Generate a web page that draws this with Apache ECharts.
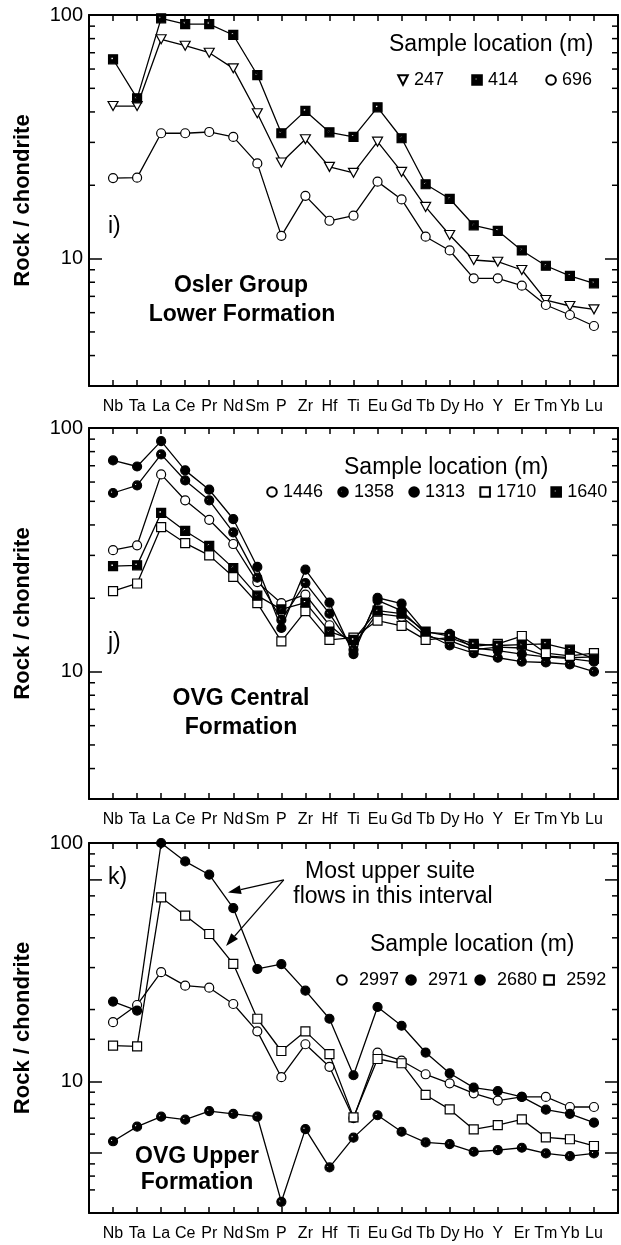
<!DOCTYPE html>
<html>
<head>
<meta charset="utf-8">
<script src="https://cdn.jsdelivr.net/npm/echarts@6/dist/echarts.min.js"></script>
<style>
  html, body { margin: 0; padding: 0; background: #fff; }
  #chart { width: 621px; height: 1245px; }
</style>
</head>
<body>
<div id="chart"></div>
<script>
// Element order along the x axis (spider diagram)
const elements = ['Nb','Ta','La','Ce','Pr','Nd','Sm','P','Zr','Hf','Ti','Eu','Gd','Tb','Dy','Ho','Y','Er','Tm','Yb','Lu'];

// i) Osler Group, Lower Formation — sample location (m)
const s247 = [42.3, 42.3, 79.5, 74.8, 70.0, 60.4, 39.5, 24.8, 30.9, 23.8, 22.5, 30.2, 22.7, 16.3, 12.5, 9.87, 9.71, 8.98, 6.76, 6.39, 6.19];
const s414 = [65.8, 45.5, 96.9, 91.8, 91.8, 82.8, 56.7, 32.7, 40.4, 33.0, 31.6, 41.8, 31.2, 20.2, 17.6, 13.7, 13.0, 10.8, 9.35, 8.49, 7.92];
const s696 = [21.4, 21.5, 32.7, 32.7, 33.1, 31.6, 24.6, 12.4, 18.1, 14.3, 15.0, 20.7, 17.5, 12.3, 10.8, 8.3, 8.3, 7.74, 6.45, 5.87, 5.29];

// j) OVG Central Formation
const s1446 = [31.5, 33.0, 64.5, 50.5, 42.0, 33.4, 23.3, 19.1, 20.7, 15.5, 12.9, 17.3, 16.8, 14.0, 13.4, 12.3, 12.6, 12.5, 11.6, 11.4, 11.5];
const s1358 = [54.1, 58.1, 77.9, 60.9, 50.5, 37.3, 24.3, 16.3, 23.1, 17.3, 12.3, 19.6, 17.8, 14.3, 12.8, 11.9, 11.4, 11.0, 10.9, 10.7, 10.0];
const s1313 = [73.6, 69.5, 88.3, 67.0, 55.8, 42.3, 26.9, 15.1, 26.2, 19.2, 11.8, 20.1, 19.0, 14.5, 14.3, 12.5, 12.2, 11.8, 11.5, 11.3, 11.0];
const s1710 = [21.4, 23.0, 39.2, 33.7, 30.0, 24.5, 19.1, 13.3, 17.7, 13.5, 13.8, 16.2, 15.4, 13.5, 13.8, 12.7, 13.0, 14.0, 11.9, 11.6, 11.9];
const s1640 = [27.1, 27.3, 44.8, 37.8, 32.8, 26.6, 20.5, 18.0, 19.2, 14.6, 13.5, 17.8, 17.3, 14.6, 14.0, 13.0, 12.8, 12.9, 13.0, 12.3, 11.3];

// k) OVG Upper Formation
const s2997 = [17.7, 20.9, 28.7, 25.2, 24.7, 21.1, 16.2, 10.4, 14.3, 11.5, 7.0, 13.2, 12.2, 10.7, 9.8, 8.9, 8.3, 8.6, 8.6, 7.8, 7.8];
const s2971 = [5.6, 6.45, 7.1, 6.9, 7.5, 7.3, 7.1, 3.12, 6.3, 4.35, 5.8, 7.2, 6.14, 5.54, 5.45, 5.06, 5.14, 5.26, 4.98, 4.85, 4.98];
const s2680 = [21.6, 19.8, 100, 83.7, 73.6, 53.3, 29.6, 31.0, 24.0, 18.3, 10.6, 20.5, 17.1, 13.2, 10.8, 9.4, 9.1, 8.6, 7.6, 7.3, 6.7];
const s2592 = [14.1, 14.0, 59.1, 49.6, 41.5, 31.1, 18.3, 13.4, 16.2, 13.0, 7.06, 12.4, 11.9, 8.76, 7.62, 6.28, 6.55, 6.92, 5.82, 5.71, 5.35];

// Labelled y ticks, unlabelled minor ticks and longer secondary ticks
const yTickLabels = [10, 100];
const minorTicks = [4, 5, 6, 7, 8, 9, 20, 30, 40, 50, 60, 70, 80, 90];
const minorTicksUpper = [3.5, 4, 4.5, 6, 7, 8, 9, 15, 20, 30, 40, 50, 60, 80, 90];
const longTicksUpper = [5, 70];

const FONT = "'Liberation Sans', Arial, Helvetica, sans-serif";
const INK = '#000';

const panels = [
  { top: 15,  height: 371, min: 3 },
  { top: 428, height: 371, min: 3 },
  { top: 843, height: 370, min: 2.8 }
];

// Marker shapes: filled square / circle with a small light spot
const SQUARE_DOT = 'path://M0,0L10,0L10,10L0,10Z M2.5,2.5L2.5,5.5L5.5,5.5L5.5,2.5Z';
const CIRCLE_DOT = 'path://M0,5A5,5,0,1,1,10,5A5,5,0,1,1,0,5Z M2,4A1.4,1.4,0,1,0,4.8,4A1.4,1.4,0,1,0,2,4Z';

const grids = [], xAxes = [], yAxes = [], series = [];

panels.forEach((p, gi) => {
  grids.push({ left: 89, right: -6, top: p.top, height: p.height });
  const xBase = {
    gridIndex: gi, type: 'value', min: -1, max: 21, interval: 1,
    splitLine: { show: false },
    axisLine: { onZero: false, lineStyle: { color: INK, width: 2 } },
    axisTick: { inside: true, length: 6, lineStyle: { color: INK, width: 1.5 } }
  };
  xAxes.push(Object.assign({}, xBase, {
    position: 'bottom',
    axisLabel: {
      color: INK, fontSize: 16, fontFamily: FONT, margin: 13,
      formatter: v => (elements[v] !== undefined ? elements[v] : '')
    }
  }));
  xAxes.push(Object.assign({}, xBase, { position: 'top', axisLabel: { show: false } }));

  const yBase = {
    gridIndex: gi, type: 'log', logBase: 10, min: p.min, max: 100,
    splitLine: { show: false },
    axisLine: { show: true, onZero: false, lineStyle: { color: INK, width: 2 } },
    axisTick: { inside: true, length: 13, lineStyle: { color: INK, width: 1.5 } }
  };
  yAxes.push(Object.assign({}, yBase, {
    position: 'left',
    name: 'Rock / chondrite', nameLocation: 'middle', nameGap: 55,
    nameTextStyle: { fontSize: 22, fontWeight: 'bold', fontFamily: FONT, color: INK },
    axisLabel: {
      color: INK, fontSize: 20, fontFamily: FONT, margin: 6,
      formatter: v => (yTickLabels.some(t => Math.abs(t - v) < 1e-6) ? String(Math.round(v)) : '')
    }
  }));
  yAxes.push(Object.assign({}, yBase, { position: 'right', axisLabel: { show: false } }));

  // minor / secondary ticks on both vertical edges
  const short = gi === 2 ? minorTicksUpper : minorTicks;
  const tickData = short.map(v => [0, v, 6]);
  if (gi === 2) longTicksUpper.forEach(v => tickData.push([0, v, 13]));
  series.push({
    type: 'custom', xAxisIndex: gi * 2, yAxisIndex: gi * 2, silent: true, z: 1,
    encode: { x: 0, y: 1 },
    data: tickData,
    renderItem(params, api) {
      const v = api.value(1), len = api.value(2);
      const l = api.coord([-1, v]), r = api.coord([21, v]);
      return {
        type: 'group',
        children: [
          { type: 'line', shape: { x1: l[0], y1: l[1], x2: l[0] + len, y2: l[1] }, style: { stroke: INK, lineWidth: 1.5 } },
          { type: 'line', shape: { x1: r[0] - len, y1: r[1], x2: r[0], y2: r[1] }, style: { stroke: INK, lineWidth: 1.5 } }
        ]
      };
    }
  });
});

function profile(name, gi, values, symbol, size, fill, rotate) {
  return {
    type: 'line', name, xAxisIndex: gi * 2, yAxisIndex: gi * 2,
    data: values.map((v, i) => [i, v]),
    symbol, symbolSize: size, symbolRotate: rotate || 0, showAllSymbol: true,
    lineStyle: { color: INK, width: 1.3 },
    itemStyle: { color: fill, borderColor: INK, borderWidth: 1.2 },
    emphasis: { disabled: true }, z: 3
  };
}

series.push(
  profile('247', 0, s247, 'triangle', [10, 9], '#fff', 180),
  profile('414', 0, s414, SQUARE_DOT, 9, INK),
  profile('696', 0, s696, 'circle', 9, '#fff'),

  profile('1446', 1, s1446, 'circle', 9, '#fff'),
  profile('1358', 1, s1358, CIRCLE_DOT, 9, INK),
  profile('1313', 1, s1313, 'circle', 9, INK),
  profile('1710', 1, s1710, 'rect', 9, '#fff'),
  profile('1640', 1, s1640, SQUARE_DOT, 9, INK),

  profile('2997', 2, s2997, 'circle', 9, '#fff'),
  profile('2971', 2, s2971, CIRCLE_DOT, 9, INK),
  profile('2680', 2, s2680, 'circle', 9, INK),
  profile('2592', 2, s2592, 'rect', 9, '#fff')
);

function legendFor(names, left, top, gap, pad) {
  return {
    data: names, left, top, width: 400, padding: 0, orient: 'horizontal', selectedMode: false,
    itemWidth: 12, itemHeight: 12, itemGap: gap,
    lineStyle: { opacity: 0 },
    textStyle: { fontSize: 18, color: INK, fontFamily: FONT, padding: [0, 0, 0, pad] }
  };
}

function text(str, x, y, size, weight, align) {
  return {
    type: 'text', x, y, silent: true, z: 10,
    style: {
      text: str, fontSize: size, fontWeight: weight || 'normal', fontFamily: FONT, fill: INK,
      align: align || 'left', verticalAlign: 'middle', textAlign: align || 'left', textVerticalAlign: 'middle'
    }
  };
}

const labels = [
  text('Sample location (m)', 389, 45, 23),
  text('i)', 108, 227, 23),
  text('Osler Group', 241, 286, 23, 'bold', 'center'),
  text('Lower Formation', 242, 315, 23, 'bold', 'center'),

  text('Sample location (m)', 344, 468, 23),
  text('j)', 108, 643, 23),
  text('OVG Central', 241, 699, 23, 'bold', 'center'),
  text('Formation', 241, 728, 23, 'bold', 'center'),

  text('k)', 108, 878, 23),
  text('Most upper suite', 390, 872, 23, 'normal', 'center'),
  text('flows in this interval', 393, 897, 23, 'normal', 'center'),
  text('Sample location (m)', 370, 945, 23),
  text('OVG Upper', 197, 1157, 23, 'bold', 'center'),
  text('Formation', 197, 1183, 23, 'bold', 'center')
];

const option = {
  animation: false,
  backgroundColor: '#fff',
  grid: grids,
  xAxis: xAxes,
  yAxis: yAxes,
  legend: [
    legendFor(['247', '414', '696'], 396, 71, 26, 0),
    legendFor(['1446', '1358', '1313', '1710', '1640'], 265, 483, 13, 0),
    legendFor(['2997', '2971', '2680', '2592'], 335, 971, 5, 6)
  ],
  series,
  graphic: labels
};

const chart = echarts.init(document.getElementById('chart'), null, { renderer: 'canvas' });
chart.setOption(option);

// Arrows from the annotation to the two upper-suite profiles (data coordinates of panel k)
const arrowFrom = [7.1, 70];
const arrowTips = [[4.78, 62], [4.7, 37]];
const arrowGraphics = [];
const p0 = chart.convertToPixel({ xAxisIndex: 4, yAxisIndex: 4 }, arrowFrom);
arrowTips.forEach(t => {
  const p1 = chart.convertToPixel({ xAxisIndex: 4, yAxisIndex: 4 }, t);
  const dx = p1[0] - p0[0], dy = p1[1] - p0[1];
  const len = Math.hypot(dx, dy), ux = dx / len, uy = dy / len;
  const headL = 13, headW = 4.5;
  const bx = p1[0] - ux * headL, by = p1[1] - uy * headL;
  arrowGraphics.push({
    type: 'line', silent: true, z: 10,
    shape: { x1: p0[0], y1: p0[1], x2: bx, y2: by },
    style: { stroke: INK, lineWidth: 1.3 }
  });
  arrowGraphics.push({
    type: 'polygon', silent: true, z: 10,
    shape: { points: [[p1[0], p1[1]], [bx - uy * headW, by + ux * headW], [bx + uy * headW, by - ux * headW]] },
    style: { fill: INK }
  });
});
option.graphic = labels.concat(arrowGraphics);
chart.setOption(option, true);
</script>
</body>
</html>
